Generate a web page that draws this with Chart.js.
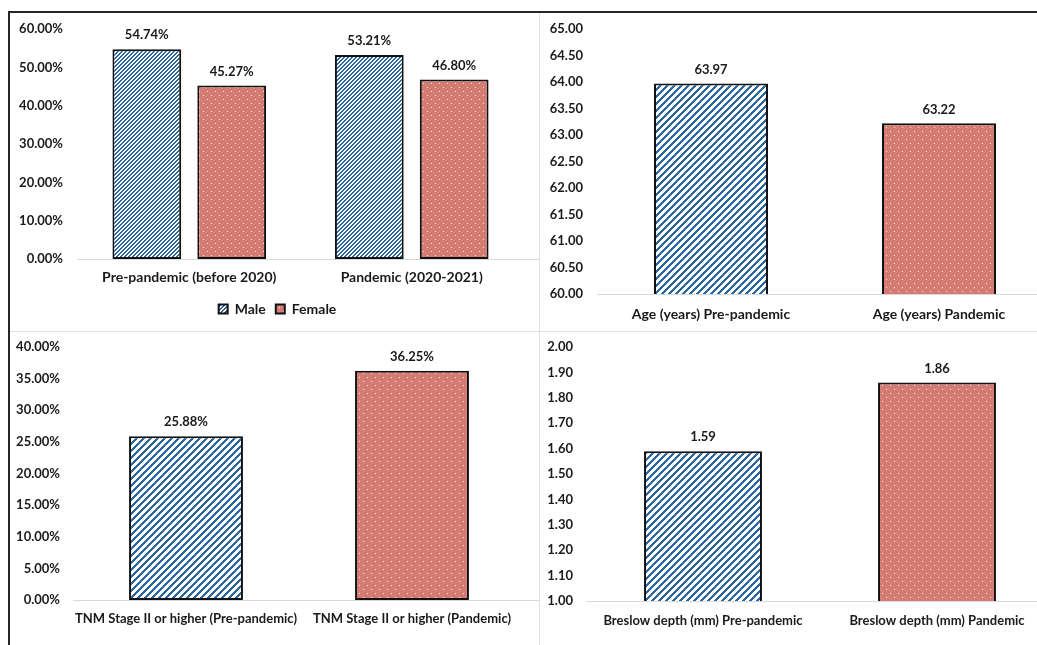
<!DOCTYPE html>
<html>
<head>
<meta charset="utf-8">
<script src="https://cdn.jsdelivr.net/npm/chart.js@4.4.1/dist/chart.umd.min.js"></script>
<style>
  html, body { margin: 0; padding: 0; background: #fff; width: 1037px; height: 645px; overflow: hidden; }
  .rule { position: absolute; }
  .panel { position: absolute; }
</style>
</head>
<body>
<div class="rule" style="left:8px;top:11px;width:1029px;height:2px;background:#262626"></div>
<div class="rule" style="left:8px;top:11px;width:2px;height:634px;background:#262626"></div>
<div class="rule" style="left:539px;top:13px;width:1px;height:632px;background:#e2e2e2"></div>
<div class="rule" style="left:10px;top:331px;width:1027px;height:1px;background:#e2e2e2"></div>

<div class="panel" style="left:10px;top:14px;width:529px;height:317px"><canvas id="sexChart"></canvas></div>
<div class="panel" style="left:541px;top:14px;width:520px;height:317px"><canvas id="ageChart"></canvas></div>
<div class="panel" style="left:10px;top:332px;width:529px;height:313px"><canvas id="stageChart"></canvas></div>
<div class="panel" style="left:541px;top:332px;width:520px;height:313px"><canvas id="breslowChart"></canvas></div>

<script>
// ---- data ----
const sexCategories = ['Pre-pandemic (before 2020)', 'Pandemic (2020-2021)'];
const maleShare = [54.74, 53.21];
const femaleShare = [45.27, 46.80];

const ageCategories = ['Age (years) Pre-pandemic', 'Age (years) Pandemic'];
const meanAge = [63.97, 63.22];

const stageCategories = ['TNM Stage II or higher (Pre-pandemic)', 'TNM Stage II or higher (Pandemic)'];
const stageShare = [25.88, 36.25];

const breslowCategories = ['Breslow depth (mm) Pre-pandemic', 'Breslow depth (mm) Pandemic'];
const breslowDepth = [1.59, 1.86];

// ---- styling ----
const TEXT = '#1a1a1a';
const BLUE = '#2a66a0';
const SALMON = '#d47c74';
const FONT = 'Lato, "Open Sans", sans-serif';
const LARGE_FONT = { size: 14, weight: 'bold' };
const SMALL_FONT = { size: 13, weight: 'bold' };

Chart.defaults.font.family = FONT;
Chart.defaults.font.weight = 'bold';
Chart.defaults.font.size = 13;
Chart.defaults.color = TEXT;

// diagonal "/" hatching on white, built pixel by pixel so tiles join cleanly
function stripePattern(period, width) {
  const c = document.createElement('canvas');
  c.width = c.height = period;
  const g = c.getContext('2d');
  g.fillStyle = '#fff';
  g.fillRect(0, 0, period, period);
  g.fillStyle = BLUE;
  for (let y = 0; y < period; y++) {
    for (let x = 0; x < period; x++) {
      if ((x + y) % period < width) g.fillRect(x, y, 1, 1);
    }
  }
  return g.createPattern(c, 'repeat');
}

// white dots on salmon, staggered rows
function dotPattern(step) {
  const c = document.createElement('canvas');
  c.width = c.height = step * 2;
  const g = c.getContext('2d');
  g.fillStyle = SALMON;
  g.fillRect(0, 0, step * 2, step * 2);
  g.fillStyle = 'rgba(255,255,255,0.85)';
  g.fillRect(1, 1, 1, 1);
  g.fillRect(1 + step, 1 + step, 1, 1);
  return g.createPattern(c, 'repeat');
}

const denseStripes = stripePattern(4, 2);
const wideStripes = stripePattern(7, 3);
const dots = dotPattern(4);

// value captions above each bar
const valueLabels = {
  id: 'valueLabels',
  afterDatasetsDraw(chart, args, opts) {
    const ctx = chart.ctx;
    ctx.save();
    ctx.font = 'bold 13px ' + FONT;
    ctx.fillStyle = TEXT;
    ctx.textAlign = 'center';
    ctx.textBaseline = 'middle';
    chart.data.datasets.forEach((ds, i) => {
      chart.getDatasetMeta(i).data.forEach((bar, j) => {
        ctx.fillText(opts.format(ds.data[j]), bar.x, bar.y - 14);
      });
    });
    ctx.restore();
  }
};

// light baseline running from the plot's left edge to the panel edge
const baseline = {
  id: 'baseline',
  beforeDatasetsDraw(chart) {
    const ctx = chart.ctx;
    const y = Math.round(chart.chartArea.bottom) + 0.5;
    ctx.save();
    ctx.strokeStyle = '#d9d9d9';
    ctx.lineWidth = 1;
    ctx.beginPath();
    ctx.moveTo(chart.chartArea.left, y);
    ctx.lineTo(chart.width, y);
    ctx.stroke();
    ctx.restore();
  }
};

// nudge the legend sideways after layout
const legendShift = {
  id: 'legendShift',
  afterLayout(chart, args, opts) {
    if (chart.legend) {
      chart.legend.left += opts.dx;
      chart.legend.right += opts.dx;
    }
  }
};

function yAxis(min, max, step, fmt, width, pad) {
  return {
    min, max,
    ticks: { stepSize: step, padding: pad, callback: v => fmt(v) },
    grid: { display: false, drawTicks: false },
    border: { display: false },
    afterFit(s) {
      s.width = width;
      // let the layout padding alone decide the plot's top edge
      s.paddingTop = 0;
      s.paddingBottom = 0;
    }
  };
}

function xAxis(height, pad, font) {
  return {
    ticks: { padding: pad, maxRotation: 0, autoSkip: false, font },
    grid: { display: false, drawTicks: false },
    border: { display: false },
    afterFit(s) { s.height = height; }
  };
}

const pct = v => v.toFixed(2) + '%';
const num = v => v.toFixed(2);

function baseOptions(extra) {
  return Object.assign({
    responsive: true,
    maintainAspectRatio: false,
    animation: false,
    events: []
  }, extra);
}

// Sex distribution
new Chart(document.getElementById('sexChart'), {
  type: 'bar',
  data: {
    labels: sexCategories,
    datasets: [
      { label: 'Male', data: maleShare, backgroundColor: denseStripes, borderColor: '#111', borderWidth: 2, borderSkipped: false,
        categoryPercentage: 0.763, barPercentage: 0.81 },
      { label: 'Female', data: femaleShare, backgroundColor: dots, borderColor: '#111', borderWidth: 2, borderSkipped: false,
        categoryPercentage: 0.763, barPercentage: 0.81 }
    ]
  },
  options: baseOptions({
    layout: { padding: { left: 0, right: 16, top: 15, bottom: 5 } },
    scales: { x: xAxis(33, 10, LARGE_FONT), y: yAxis(0, 60, 10, pct, 68, 15) },
    plugins: {
      legend: { position: 'bottom', labels: { boxWidth: 9, boxHeight: 9, padding: 10, font: LARGE_FONT } },
      legendShift: { dx: 11 },
      tooltip: { enabled: false },
      valueLabels: { format: pct }
    }
  }),
  plugins: [baseline, valueLabels, legendShift]
});

// Age
new Chart(document.getElementById('ageChart'), {
  type: 'bar',
  data: {
    labels: ageCategories,
    datasets: [{ data: meanAge, backgroundColor: [wideStripes, dots], borderColor: '#111', borderWidth: 2, borderSkipped: false,
      categoryPercentage: 1, barPercentage: 0.5 }]
  },
  options: baseOptions({
    layout: { padding: { left: 0, right: 8, top: 15, bottom: 0 } },
    scales: { x: xAxis(37, 12, LARGE_FONT), y: yAxis(60, 65, 0.5, num, 56, 14) },
    plugins: { legend: { display: false }, tooltip: { enabled: false }, valueLabels: { format: num } }
  }),
  plugins: [baseline, valueLabels]
});

// TNM stage
new Chart(document.getElementById('stageChart'), {
  type: 'bar',
  data: {
    labels: stageCategories,
    datasets: [{ data: stageShare, backgroundColor: [wideStripes, dots], borderColor: '#111', borderWidth: 2, borderSkipped: false,
      categoryPercentage: 1, barPercentage: 0.504 }]
  },
  options: baseOptions({
    layout: { padding: { left: 0, right: 14, top: 15, bottom: 0 } },
    scales: { x: xAxis(45, 11, SMALL_FONT), y: yAxis(0, 40, 5, pct, 63, 13) },
    plugins: { legend: { display: false }, tooltip: { enabled: false }, valueLabels: { format: pct } }
  }),
  plugins: [baseline, valueLabels]
});

// Breslow depth
new Chart(document.getElementById('breslowChart'), {
  type: 'bar',
  data: {
    labels: breslowCategories,
    datasets: [{ data: breslowDepth, backgroundColor: [wideStripes, dots], borderColor: '#111', borderWidth: 2, borderSkipped: false,
      categoryPercentage: 1, barPercentage: 0.504 }]
  },
  options: baseOptions({
    layout: { padding: { left: 0, right: 7, top: 15, bottom: 0 } },
    scales: { x: xAxis(44, 12, SMALL_FONT), y: yAxis(1, 2, 0.1, num, 45, 13) },
    plugins: { legend: { display: false }, tooltip: { enabled: false }, valueLabels: { format: num } }
  }),
  plugins: [baseline, valueLabels]
});
</script>
</body>
</html>
